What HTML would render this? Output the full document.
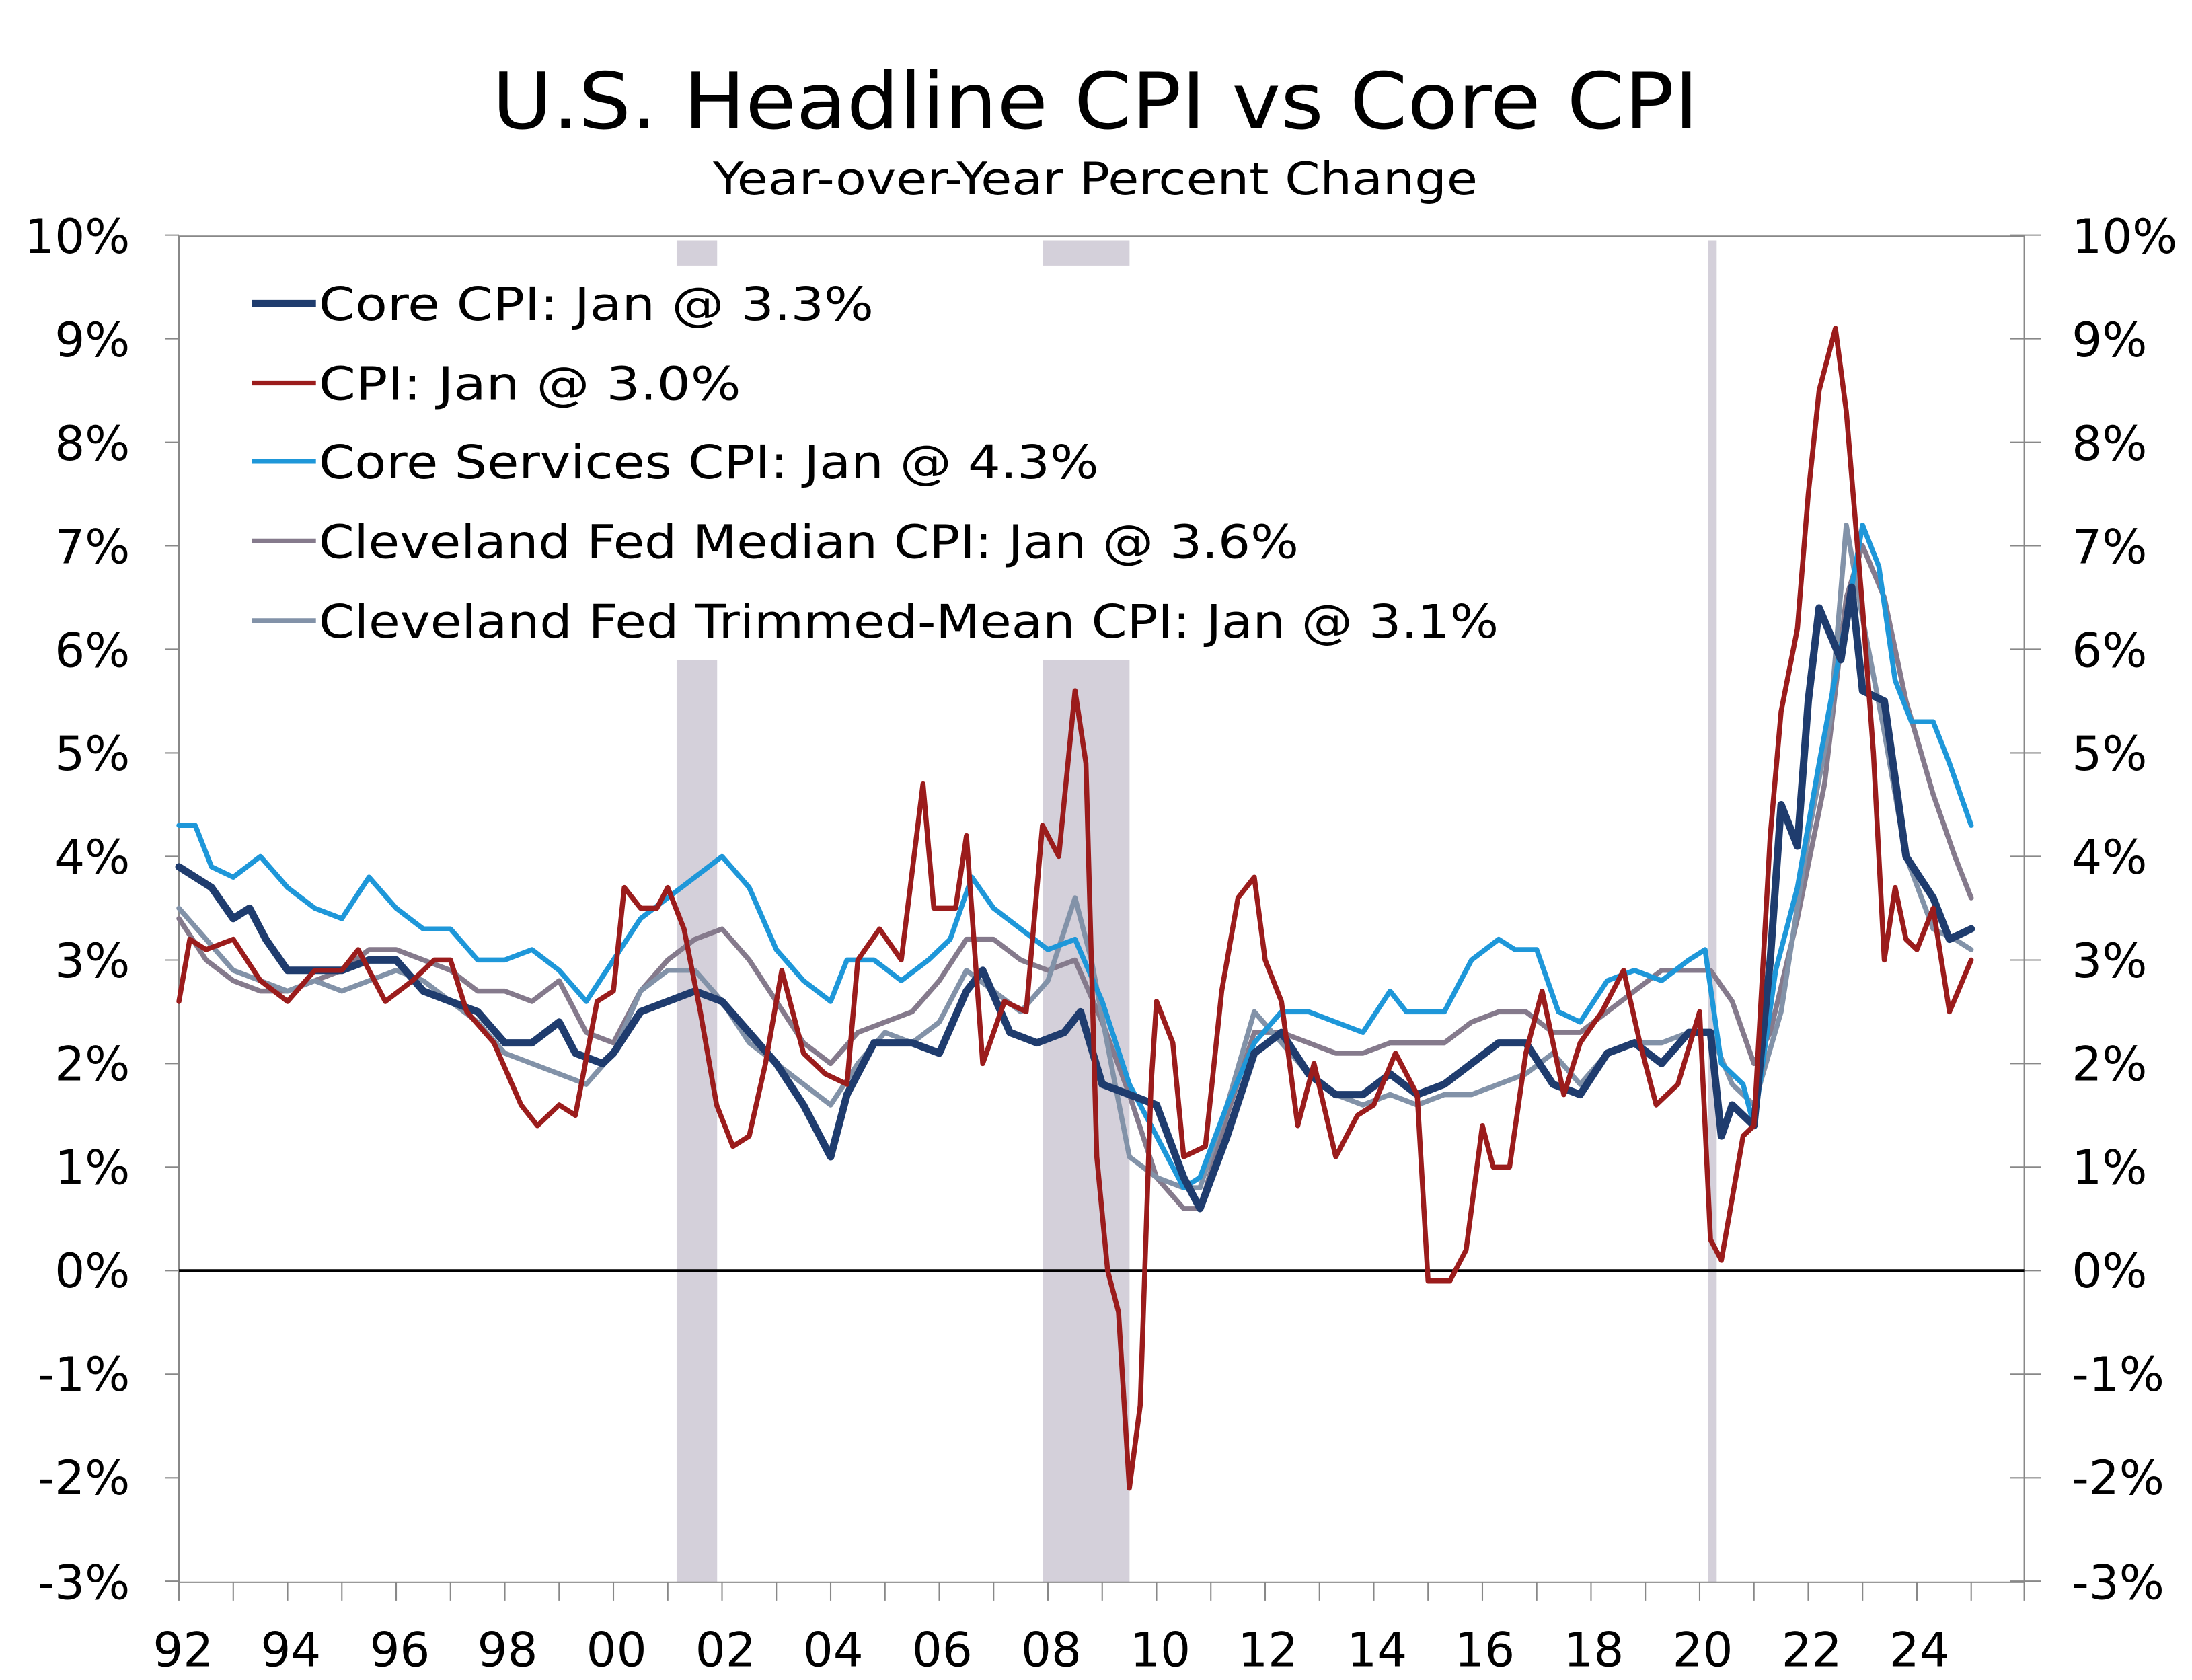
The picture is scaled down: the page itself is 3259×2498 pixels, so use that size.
<!DOCTYPE html>
<html><head><meta charset="utf-8"><style>html,body{margin:0;padding:0;background:#fff}svg{display:block}</style></head>
<body>
<svg width="3259" height="2498" viewBox="0 0 1568 1201.85" xmlns="http://www.w3.org/2000/svg" font-family="'DejaVu Sans','Liberation Sans',sans-serif">
<rect width="1568" height="1202" fill="#fff"/>
<g fill="#d4d0da">
<rect x="484" y="172" width="29" height="960"/>
<rect x="746" y="172" width="62" height="960"/>
<rect x="1222" y="172" width="6" height="960"/>
</g>
<rect x="170" y="190" width="920" height="282" fill="#fff"/>
<g stroke="#888" stroke-width="1" fill="none">
<rect x="128" y="169" width="1320" height="963"/>
<path d="M118,168.2h10M118,242.3h10M118,316.4h10M118,390.4h10M118,464.5h10M118,538.6h10M118,612.7h10M118,686.8h10M118,760.8h10M118,834.9h10M118,909h10M118,983.1h10M118,1057.2h10M118,1131.2h10
M1438,168.2h22M1438,242.3h22M1438,316.4h22M1438,390.4h22M1438,464.5h22M1438,538.6h22M1438,612.7h22M1438,686.8h22M1438,760.8h22M1438,834.9h22M1438,909h22M1438,983.1h22M1438,1057.2h22M1438,1131.2h22
M128,1132v13M166.85,1132v13M205.7,1132v13M244.55,1132v13M283.4,1132v13M322.25,1132v13M361.1,1132v13M399.95,1132v13M438.8,1132v13M477.65,1132v13M516.5,1132v13M555.35,1132v13M594.2,1132v13M633.05,1132v13M671.9,1132v13M710.75,1132v13M749.6,1132v13M788.45,1132v13M827.3,1132v13M866.15,1132v13M905,1132v13M943.85,1132v13M982.7,1132v13M1021.55,1132v13M1060.4,1132v13M1099.25,1132v13M1138.1,1132v13M1176.95,1132v13M1215.8,1132v13M1254.65,1132v13M1293.5,1132v13M1332.35,1132v13M1371.2,1132v13M1410.05,1132v13M1448,1132v13"/>
</g>
<line x1="128" y1="909" x2="1448" y2="909" stroke="#000" stroke-width="2"/>
<g font-size="34" fill="#000" text-anchor="end">
<text x="93" y="181">10%</text><text x="93" y="255">9%</text><text x="93" y="329">8%</text><text x="93" y="403">7%</text><text x="93" y="477">6%</text><text x="93" y="551">5%</text><text x="93" y="625">4%</text><text x="93" y="699">3%</text><text x="93" y="773">2%</text><text x="93" y="847">1%</text><text x="93" y="921">0%</text><text x="93" y="995">-1%</text><text x="93" y="1069">-2%</text><text x="93" y="1144">-3%</text>
</g>
<g font-size="34" fill="#000">
<text x="1482" y="181">10%</text><text x="1482" y="255">9%</text><text x="1482" y="329">8%</text><text x="1482" y="403">7%</text><text x="1482" y="477">6%</text><text x="1482" y="551">5%</text><text x="1482" y="625">4%</text><text x="1482" y="699">3%</text><text x="1482" y="773">2%</text><text x="1482" y="847">1%</text><text x="1482" y="921">0%</text><text x="1482" y="995">-1%</text><text x="1482" y="1069">-2%</text><text x="1482" y="1144">-3%</text>
</g>
<g font-size="34" fill="#000" text-anchor="middle">
<text x="131" y="1192">92</text><text x="208" y="1192">94</text><text x="286" y="1192">96</text><text x="363" y="1192">98</text><text x="441" y="1192">00</text><text x="519" y="1192">02</text><text x="596" y="1192">04</text><text x="674" y="1192">06</text><text x="752" y="1192">08</text><text x="830" y="1192">10</text><text x="907" y="1192">12</text><text x="985" y="1192">14</text><text x="1062" y="1192">16</text><text x="1140" y="1192">18</text><text x="1218" y="1192">20</text><text x="1296" y="1192">22</text><text x="1373" y="1192">24</text>
</g>
<text x="352" y="92" font-size="56" textLength="863" lengthAdjust="spacingAndGlyphs">U.S. Headline CPI vs Core CPI</text>
<text x="510" y="139" font-size="32" textLength="547" lengthAdjust="spacingAndGlyphs">Year-over-Year Percent Change</text>
<g transform="translate(128,909) scale(38.85,-74.08)" fill="none" stroke-linejoin="round" stroke-linecap="round">
<polyline vector-effect="non-scaling-stroke" stroke="#857a8c" stroke-width="7.5" points="0,3.4 .5,3 1,2.8 1.5,2.7 2,2.7 2.5,2.8 3,2.9 3.5,3.1 4,3.1 4.5,3 5,2.9 5.5,2.7 6,2.7 6.5,2.6 7,2.8 7.5,2.3 8,2.2 8.5,2.7 9,3 9.5,3.2 10,3.3 10.5,3 11,2.6 11.5,2.2 12,2 12.5,2.3 13,2.4 13.5,2.5 14,2.8 14.5,3.2 15,3.2 15.5,3 16,2.9 16.5,3 17,2.4 17.5,1.7 18,.9 18.5,.6 18.8,.6 19.3,1.5 19.8,2.3 20.3,2.3 20.8,2.2 21.3,2.1 21.8,2.1 22.3,2.2 22.8,2.2 23.3,2.2 23.8,2.4 24.3,2.5 24.8,2.5 25.3,2.3 25.8,2.3 26.3,2.5 26.8,2.7 27.3,2.9 27.8,2.9 28.2,2.9 28.6,2.6 29,2 29.3,2.3 29.8,3.4 30.3,4.7 30.7,6.5 31,7 31.4,6.5 31.8,5.5 32.3,4.6 32.7,4 33,3.6"/>
<polyline vector-effect="non-scaling-stroke" stroke="#8292a8" stroke-width="7.5" points="0,3.5 .5,3.2 1,2.9 1.5,2.8 2,2.7 2.5,2.8 3,2.7 3.5,2.8 4,2.9 4.5,2.8 5,2.6 5.5,2.4 6,2.1 6.5,2 7,1.9 7.5,1.8 8,2.1 8.5,2.7 9,2.9 9.5,2.9 10,2.6 10.5,2.2 11,2 11.5,1.8 12,1.6 12.5,2 13,2.3 13.5,2.2 14,2.4 14.5,2.9 15,2.7 15.5,2.5 16,2.8 16.5,3.6 16.8,3 17.2,1.9 17.5,1.1 18,.9 18.5,.8 18.8,.8 19.3,1.6 19.8,2.5 20.3,2.2 20.8,1.9 21.3,1.7 21.8,1.6 22.3,1.7 22.8,1.6 23.3,1.7 23.8,1.7 24.3,1.8 24.8,1.9 25.3,2.1 25.8,1.8 26.3,2.1 26.8,2.2 27.3,2.2 27.8,2.3 28.2,2.3 28.6,1.8 29,1.6 29.5,2.5 30,4.2 30.4,5.3 30.7,7.2 31,6.3 31.4,5.2 31.8,4 32.3,3.3 32.7,3.2 33,3.1"/>
<polyline vector-effect="non-scaling-stroke" stroke="#1e97d9" stroke-width="7.5" points="0,4.3 .3,4.3 .6,3.9 1,3.8 1.5,4 2,3.7 2.5,3.5 3,3.4 3.5,3.8 4,3.5 4.5,3.3 5,3.3 5.5,3 6,3 6.5,3.1 7,2.9 7.5,2.6 8,3 8.5,3.4 9,3.6 9.5,3.8 10,4 10.5,3.7 11,3.1 11.5,2.8 12,2.6 12.3,3 12.8,3 13.3,2.8 13.8,3 14.2,3.2 14.6,3.8 15,3.5 15.5,3.3 16,3.1 16.5,3.2 17,2.6 17.5,1.8 18,1.3 18.5,.8 18.8,.9 19.3,1.6 19.8,2.2 20.3,2.5 20.8,2.5 21.3,2.4 21.8,2.3 22.3,2.7 22.6,2.5 23.3,2.5 23.8,3 24.3,3.2 24.6,3.1 25,3.1 25.4,2.5 25.8,2.4 26.3,2.8 26.8,2.9 27.3,2.8 27.8,3 28.1,3.1 28.4,2 28.8,1.8 29,1.4 29.4,2.9 29.8,3.7 30.2,4.9 30.7,6.3 31,7.2 31.3,6.8 31.6,5.7 31.9,5.3 32.3,5.3 32.6,4.9 33,4.3"/>
<polyline vector-effect="non-scaling-stroke" stroke="#1f3c6e" stroke-width="11" points="0,3.9 .3,3.8 .6,3.7 1,3.4 1.3,3.5 1.6,3.2 2,2.9 2.5,2.9 3,2.9 3.5,3 4,3 4.5,2.7 5,2.6 5.5,2.5 6,2.2 6.5,2.2 7,2.4 7.3,2.1 7.8,2 8,2.1 8.5,2.5 9,2.6 9.5,2.7 10,2.6 10.5,2.3 11,2 11.5,1.6 12,1.1 12.3,1.7 12.8,2.2 13.5,2.2 14,2.1 14.5,2.7 14.8,2.9 15.3,2.3 15.8,2.2 16.3,2.3 16.6,2.5 17,1.8 17.5,1.7 18,1.6 18.5,.9 18.8,.6 19.3,1.3 19.8,2.1 20.3,2.3 20.8,1.9 21.3,1.7 21.8,1.7 22.3,1.9 22.8,1.7 23.3,1.8 23.8,2 24.3,2.2 24.8,2.2 25.3,1.8 25.8,1.7 26.3,2.1 26.8,2.2 27.3,2 27.8,2.3 28.2,2.3 28.4,1.3 28.6,1.6 29,1.4 29.3,3 29.5,4.5 29.8,4.1 30,5.5 30.2,6.4 30.6,5.9 30.8,6.6 31,5.6 31.4,5.5 31.8,4 32.3,3.6 32.6,3.2 33,3.3"/>
<polyline vector-effect="non-scaling-stroke" stroke="#9b1c1c" stroke-width="7.5" points="0,2.6 .2,3.2 .5,3.1 1,3.2 1.5,2.8 2,2.6 2.5,2.9 3,2.9 3.3,3.1 3.8,2.6 4.3,2.8 4.7,3 5,3 5.3,2.5 5.8,2.2 6.3,1.6 6.6,1.4 7,1.6 7.3,1.5 7.7,2.6 8,2.7 8.2,3.7 8.5,3.5 8.8,3.5 9,3.7 9.3,3.3 9.6,2.5 9.9,1.6 10.2,1.2 10.5,1.3 10.8,2 11.1,2.9 11.5,2.1 11.9,1.9 12.3,1.8 12.5,3 12.9,3.3 13.3,3 13.7,4.7 13.9,3.5 14.3,3.5 14.5,4.2 14.8,2 15.2,2.6 15.6,2.5 15.9,4.3 16.2,4 16.5,5.6 16.7,4.9 16.9,1.1 17.1,0 17.3,-.4 17.5,-2.1 17.7,-1.3 17.9,1.8 18,2.6 18.3,2.2 18.5,1.1 18.9,1.2 19.2,2.7 19.5,3.6 19.8,3.8 20,3 20.3,2.6 20.6,1.4 20.9,2 21.3,1.1 21.7,1.5 22,1.6 22.4,2.1 22.8,1.7 23,-.1 23.4,-.1 23.7,.2 24,1.4 24.2,1 24.5,1 24.8,2.1 25.1,2.7 25.5,1.7 25.8,2.2 26.2,2.5 26.6,2.9 26.9,2.2 27.2,1.6 27.6,1.8 28,2.5 28.2,.3 28.4,.1 28.8,1.3 29,1.4 29.3,4.2 29.5,5.4 29.8,6.2 30,7.5 30.2,8.5 30.5,9.1 30.7,8.3 31,6.4 31.2,5 31.4,3 31.6,3.7 31.8,3.2 32,3.1 32.3,3.5 32.6,2.5 33,3"/>
</g>
<g font-size="33" fill="#000">
<line x1="180" y1="217" x2="226" y2="217" stroke="#1f3c6e" stroke-width="5"/><text x="228" y="229" textLength="397" lengthAdjust="spacingAndGlyphs">Core CPI: Jan @ 3.3%</text>
<line x1="180" y1="274" x2="226" y2="274" stroke="#9b1c1c" stroke-width="3.5"/><text x="228" y="286" textLength="302" lengthAdjust="spacingAndGlyphs">CPI: Jan @ 3.0%</text>
<line x1="180" y1="330" x2="226" y2="330" stroke="#1e97d9" stroke-width="3.5"/><text x="228" y="342" textLength="558" lengthAdjust="spacingAndGlyphs">Core Services CPI: Jan @ 4.3%</text>
<line x1="180" y1="387" x2="226" y2="387" stroke="#857a8c" stroke-width="3.5"/><text x="228" y="399" textLength="701" lengthAdjust="spacingAndGlyphs">Cleveland Fed Median CPI: Jan @ 3.6%</text>
<line x1="180" y1="444" x2="226" y2="444" stroke="#8292a8" stroke-width="3.5"/><text x="228" y="456" textLength="844" lengthAdjust="spacingAndGlyphs">Cleveland Fed Trimmed-Mean CPI: Jan @ 3.1%</text>
</g>
</svg>
</body></html>
